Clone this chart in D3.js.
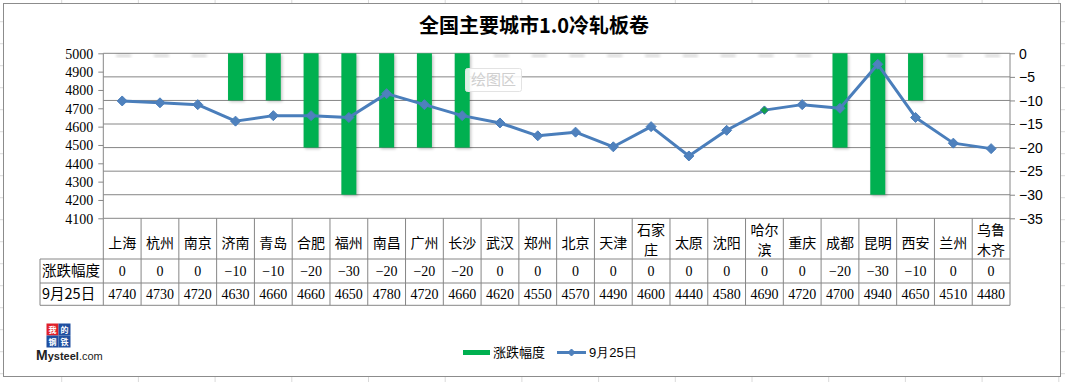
<!DOCTYPE html>
<html><head><meta charset="utf-8">
<script src="https://cdn.jsdelivr.net/npm/d3@7"></script>
<style>body{margin:0;background:#fff;}svg{display:block;}</style>
</head><body><svg id="c" width="1065" height="382"></svg>
<script>
const categories = ["上海","杭州","南京","济南","青岛","合肥","福州","南昌","广州","长沙","武汉","郑州","北京","天津","石家庄","太原","沈阳","哈尔滨","重庆","成都","昆明","西安","兰州","乌鲁木齐"];
const changeValues = [0,0,0,-10,-10,-20,-30,-20,-20,-20,0,0,0,0,0,0,0,0,0,-20,-30,-10,0,0];
const priceValues = [4740,4730,4720,4630,4660,4660,4650,4780,4720,4660,4620,4550,4570,4490,4600,4440,4580,4690,4720,4700,4940,4650,4510,4480];
const leftTicks = [4100,4200,4300,4400,4500,4600,4700,4800,4900,5000];
const rightTicks = [0,-5,-10,-15,-20,-25,-30,-35];
const seriesNames = ["涨跌幅度","9月25日"];
const title = "全国主要城市1.0冷轧板卷";

const svg = d3.select("#c");
const W = 1065, H = 382;
const plot = {l:103.3, r:1010, t:53.3, b:218.3};
const rowLines = [218.3, 259, 283, 305.3];
const headerLeft = 40;
const gridColor = "#868686";
const cjk = "'Noto Sans CJK SC','Noto Sans',sans-serif";
const serif = "'Liberation Serif','DejaVu Serif',serif";

// spreadsheet background grid
const bg = svg.append("g");
for (let x = 61.7; x < W; x += 76.7) bg.append("line").attr("x1",x).attr("x2",x).attr("y1",0).attr("y2",H).attr("stroke","#dadada");
for (let y = 21.7; y < H; y += 22) bg.append("line").attr("x1",0).attr("x2",W).attr("y1",y).attr("y2",y).attr("stroke","#dadada");
svg.append("rect").attr("x",3.5).attr("y",3.5).attr("width",1057).attr("height",373).attr("fill","#fff").attr("stroke","#8c8c8c");

const defs = svg.append("defs");
defs.append("filter").attr("id","blur").attr("x","-50%").attr("y","-50%").attr("width","200%").attr("height","200%")
  .append("feGaussianBlur").attr("stdDeviation",1.4);

// scales
const x = d3.scaleBand().domain(categories).range([plot.l, plot.r]).paddingInner(0).paddingOuter(0);
const yL = d3.scaleLinear().domain([4100,5000]).range([plot.b, plot.t]);
const yR = d3.scaleLinear().domain([-35,0]).range([plot.b, plot.t]);

// title
svg.append("text").attr("x",534).attr("y",33).attr("text-anchor","middle")
  .attr("font-family",cjk).attr("font-weight","bold").attr("font-size",20).attr("fill","#000").text(title);

// gridlines (right axis)
svg.append("g").selectAll("line").data(rightTicks).join("line")
  .attr("x1",plot.l).attr("x2",plot.r).attr("y1",d=>yR(d)).attr("y2",d=>yR(d))
  .attr("stroke",gridColor).attr("stroke-width",1);

// left axis
const gL = svg.append("g").attr("transform",`translate(${plot.l},0)`)
  .call(d3.axisLeft(yL).tickValues(leftTicks).tickSize(5).tickFormat(d3.format("d")));
gL.select(".domain").attr("stroke",gridColor).attr("d",`M-0,${plot.t}V${plot.b}`);
gL.selectAll(".tick line").attr("stroke",gridColor);
gL.selectAll(".tick text").attr("font-family",serif).attr("font-size",14).attr("fill","#000").attr("x",-10).attr("dy","0.34em");

// right axis
const gR = svg.append("g").attr("transform",`translate(${plot.r},0)`)
  .call(d3.axisRight(yR).tickValues(rightTicks).tickSize(5));
gR.select(".domain").attr("stroke",gridColor).attr("d",`M0,${plot.t}V${plot.b}`);
gR.selectAll(".tick line").attr("stroke",gridColor);
gR.selectAll(".tick text").attr("font-family","'Liberation Sans',Arial,sans-serif").attr("font-size",14).attr("fill","#000").attr("x",9).attr("dy","0.34em");

// bars
const bw = 15;
const barData = categories.map((c,i)=>({c, v:changeValues[i]}));
svg.append("g").selectAll("rect").data(barData).join("rect")
  .attr("x",d=>x(d.c)+x.bandwidth()/2-bw/2+1.5).attr("y",d=>yR(0)+1.5)
  .attr("width",bw).attr("height",d=>Math.max(yR(d.v)-yR(0),2))
  .attr("fill","#000").attr("opacity",0.22).attr("filter","url(#blur)");
svg.append("g").selectAll("rect").data(barData).join("rect")
  .attr("x",d=>x(d.c)+x.bandwidth()/2-bw/2).attr("y",yR(0))
  .attr("width",bw).attr("height",d=>yR(d.v)-yR(0))
  .attr("fill","#00B050");

// line
const lineData = categories.map((c,i)=>({c, v:priceValues[i]}));
const line = d3.line().x(d=>x(d.c)+x.bandwidth()/2).y(d=>yL(d.v));
svg.append("path").datum(lineData).attr("d",line).attr("fill","none")
  .attr("stroke","#4A7EBB").attr("stroke-width",3).attr("stroke-linejoin","round");
const diamond = (s)=>`M0,${-s}L${s},0L0,${s}L${-s},0Z`;
svg.append("g").selectAll("path").data(lineData).join("path")
  .attr("transform",d=>`translate(${x(d.c)+x.bandwidth()/2},${yL(d.v)})`)
  .attr("d",d=>d.c==="哈尔滨"?diamond(4.2):diamond(5))
  .attr("fill",d=>d.c==="哈尔滨"?"#12A04A":"#4F81BD")
  .attr("stroke",d=>d.c==="哈尔滨"?"#3F73B0":"#4A7EBB").attr("stroke-width",1);

// plot area tooltip
svg.append("rect").attr("x",465.5).attr("y",68.5).attr("width",56).attr("height",23).attr("rx",2)
  .attr("fill","rgba(255,255,255,0.85)").attr("stroke","#e3e3e3");
svg.append("text").attr("x",493.5).attr("y",85).attr("text-anchor","middle").attr("font-family",cjk)
  .attr("font-size",15).attr("fill","#cfcfcf").text("绘图区");

// data table
const tg = svg.append("g");
const cols = [...categories.map(c=>x(c)), plot.r];
tg.selectAll("line.v").data(cols).join("line").attr("class","v")
  .attr("x1",d=>d).attr("x2",d=>d).attr("y1",plot.b).attr("y2",rowLines[3]).attr("stroke",gridColor);
tg.append("line").attr("x1",headerLeft).attr("x2",headerLeft).attr("y1",rowLines[1]).attr("y2",rowLines[3]).attr("stroke",gridColor);
[1,2,3].forEach(k=>tg.append("line").attr("x1",headerLeft).attr("x2",plot.r).attr("y1",rowLines[k]).attr("y2",rowLines[k]).attr("stroke",gridColor));

// category labels
categories.forEach(c=>{
  const cx = x(c)+x.bandwidth()/2;
  const parts = [];
  for (let i=0;i<c.length;i+=2) parts.push(c.slice(i,i+2));
  if (parts.length===1) {
    tg.append("text").attr("text-anchor","middle").attr("font-family",cjk).attr("font-size",14).attr("fill","#000")
      .attr("x",cx).attr("y",248).text(parts[0]);
  } else {
    parts.forEach((p,j)=>tg.append("text").attr("text-anchor","middle").attr("font-family",cjk).attr("font-size",14).attr("fill","#000")
      .attr("x",cx).attr("y",235+j*19.5).text(p));
  }
});
// header cells
tg.append("text").attr("x",42).attr("y",276).attr("font-family",cjk).attr("font-size",14.5).attr("fill","#000").text(seriesNames[0]);
tg.append("text").attr("x",42).attr("y",299).attr("font-family",cjk).attr("font-size",14.5).attr("fill","#000").text(seriesNames[1]);
const fmt = d3.format("d");
categories.forEach((c,i)=>{
  const cx = x(c)+x.bandwidth()/2;
  tg.append("text").attr("x",cx).attr("y",276).attr("text-anchor","middle").attr("font-family",serif).attr("font-size",14).text(fmt(changeValues[i]));
  tg.append("text").attr("x",cx).attr("y",299).attr("text-anchor","middle").attr("font-family",serif).attr("font-size",14).text(fmt(priceValues[i]));
});

// legend
const lg = svg.append("g");
lg.append("rect").attr("x",463).attr("y",350).attr("width",27).attr("height",5).attr("fill","#00B050");
lg.append("text").attr("x",493).attr("y",357).attr("font-family",cjk).attr("font-size",13).text(seriesNames[0]);
lg.append("line").attr("x1",557).attr("x2",586).attr("y1",352.5).attr("y2",352.5).attr("stroke","#4A7EBB").attr("stroke-width",3);
lg.append("path").attr("transform","translate(571.5,352.5)").attr("d",diamond(3.5)).attr("fill","#4F81BD").attr("stroke","#4A7EBB");
lg.append("text").attr("x",589).attr("y",357).attr("font-family","'Liberation Sans',Arial,sans-serif").attr("font-size",13).text(seriesNames[1]);

// logo
const logo = svg.append("g");
const sq = [["我","#E0202A",46.5,323.5],["的","#1F4FA0",58.5,323.5],["钢","#1F4FA0",46.5,335.5],["铁","#1F4FA0",58.5,335.5]];
sq.forEach(([ch,col,lx,ly])=>{
  logo.append("rect").attr("x",lx).attr("y",ly).attr("width",12).attr("height",12).attr("fill",col);
  logo.append("text").attr("x",lx+6).attr("y",ly+9.5).attr("text-anchor","middle").attr("font-family",cjk).attr("font-weight","bold").attr("font-size",8).attr("fill","#fff").text(ch);
});
logo.append("text").attr("x",36).attr("y",360).attr("font-family","'Liberation Sans',Arial,sans-serif").attr("font-size",11).attr("font-weight","bold").attr("fill","#222")
  .html('<tspan font-size="14">M</tspan>ysteel<tspan font-weight="normal">.com</tspan>');
</script></body></html>
